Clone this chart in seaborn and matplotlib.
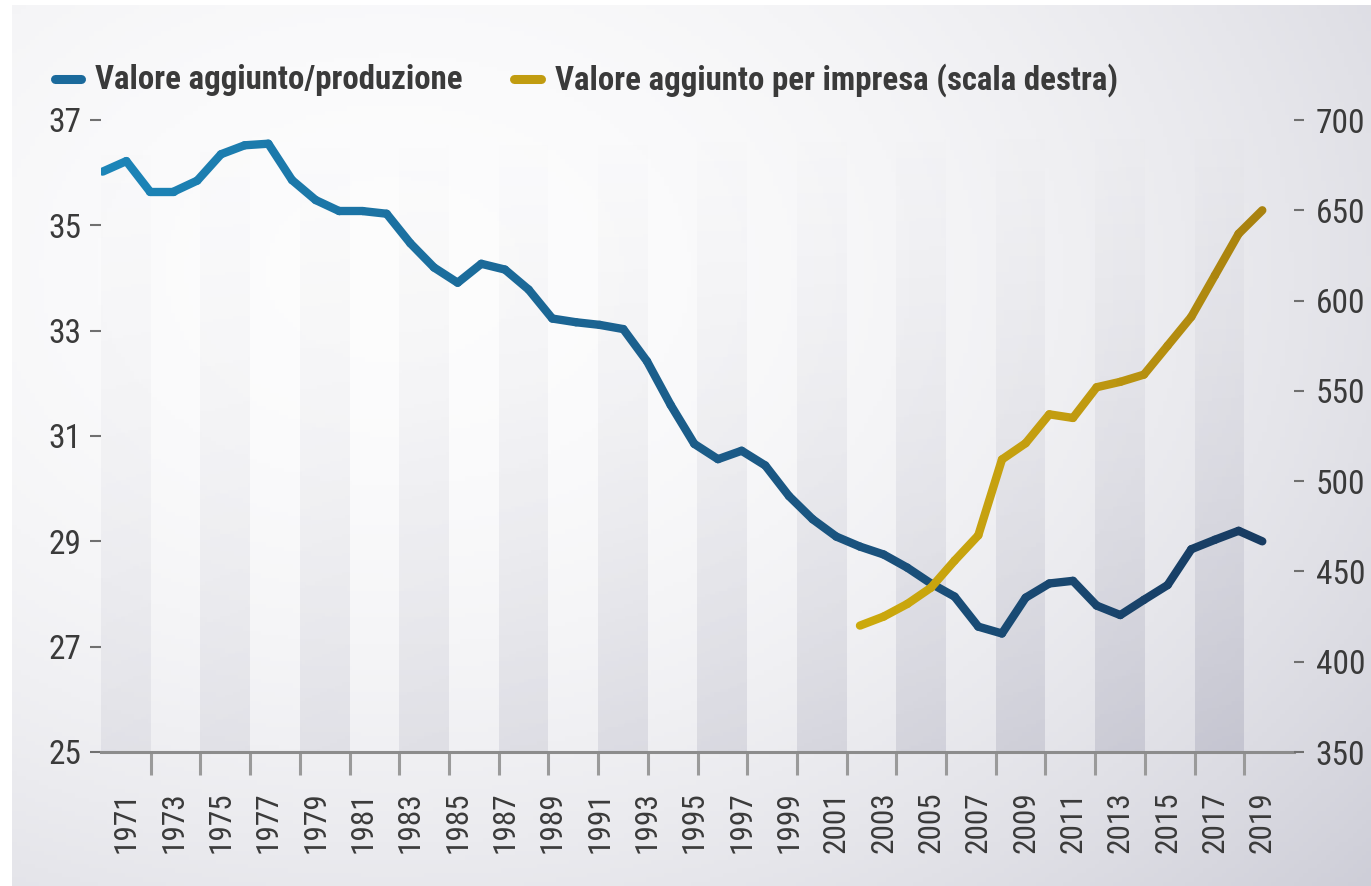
import matplotlib

matplotlib.use("Agg")

import matplotlib.pyplot as plt
import numpy as np
import pandas as pd
import seaborn as sns
from matplotlib import font_manager
from matplotlib.colors import LinearSegmentedColormap
from matplotlib.lines import Line2D

# ── dati ──────────────────────────────────────────────────────────────────────
anni = list(range(1970, 2020))
va_produzione = [
    36.02, 36.22, 35.64, 35.64, 35.85, 36.35, 36.52, 36.55, 35.86, 35.48,
    35.27, 35.27, 35.22, 34.66, 34.20, 33.91, 34.27, 34.16, 33.78, 33.23,
    33.16, 33.11, 33.03, 32.42, 31.59, 30.85, 30.56, 30.72, 30.44, 29.86,
    29.42, 29.09, 28.90, 28.75, 28.50, 28.20, 27.95, 27.38, 27.25, 27.93,
    28.20, 28.25, 27.78, 27.60, 27.89, 28.17, 28.85, 29.03, 29.20, 29.00,
]
anni_impresa = list(range(2002, 2020))
va_impresa = [
    420, 425, 432, 441, 456, 470, 512, 521, 537, 535,
    552, 555, 559, 575, 591, 614, 637, 650,
]
anni_etichette = list(range(1971, 2020, 2))
tick_sx = [25, 27, 29, 31, 33, 35, 37]
tick_dx = [350, 400, 450, 500, 550, 600, 650, 700]
etichetta_1 = "Valore aggiunto/produzione"
etichetta_2 = "Valore aggiunto per impresa (scala destra)"

sns.set_theme(style="white")

# condensed font if available
_names = sorted({f.name for f in font_manager.fontManager.ttflist})
FONT = "Roboto"
for cand in ["Roboto Condensed", "Liberation Sans Narrow", "DejaVu Sans Condensed",
             "Open Sans Condensed"]:
    if cand in _names:
        FONT = cand
        break
plt.rcParams["font.family"] = [FONT, "DejaVu Sans"]

W, H = 1371, 886
fig = plt.figure(figsize=(W / 100, H / 100), dpi=100, facecolor="white")

# background panel gradient
bg = fig.add_axes([12 / W, 0, 1 - 12 / W, 1 - 5 / H], zorder=-10)
u, v = np.meshgrid(np.linspace(0, 1, 300), np.linspace(0, 1, 200))
d = 0.01 + 0.2 * ((u - 0.28) ** 2 + 0.8 * (v - 0.3) ** 2)
img = np.dstack([1 - d, 1 - d, 1 - 0.8 * d])
bg.imshow(np.clip(img, 0, 1), extent=[0, 1, 0, 1], aspect="auto")
bg.axis("off")

ax = fig.add_axes([101 / W, 1 - 752 / H, (1294 - 101) / W, (752 - 120) / H])
ax.patch.set_alpha(0)
x0, x1 = 1969.93, 2020.34
y0, y1 = 25, 37

# shaded columns (24 bins, every other one)
rows, cols = 200, 24 * 20
cc = np.arange(cols)
col_on = ((cc // 20) % 2 == 0).astype(float)
t = (np.arange(rows) / (rows - 1))[:, None] ** 1.1
a = (0.10 + 0.12 * cc / cols)[None, :]
band = np.zeros((rows, cols, 4))
band[..., 0] = 0.45
band[..., 1] = 0.45
band[..., 2] = 0.56
band[..., 3] = t * a * col_on[None, :]
ax.imshow(band, extent=[x0, x1, y0, y1], aspect="auto", zorder=0,
          interpolation="nearest")

ax2 = ax.twinx()


def linea_sfumata(axis, xs, ys, colori, lw):
    cmap = LinearSegmentedColormap.from_list("g", colori)
    n = len(xs) - 1
    seg = [f"s{i:02d}" for i in range(n) for _ in (0, 1)]
    df = pd.DataFrame({
        "x": [xs[i + k] for i in range(n) for k in (0, 1)],
        "y": [ys[i + k] for i in range(n) for k in (0, 1)],
        "seg": seg,
    })
    pal = {f"s{i:02d}": cmap(i / max(n - 1, 1)) for i in range(n)}
    sns.lineplot(df, x="x", y="y", hue="seg", palette=pal, legend=False,
                 estimator=None, sort=False, lw=lw, solid_capstyle="round",
                 ax=axis, zorder=3)


blu = ["#1c85b8", "#1b5d8a", "#183c62"]
oro = ["#cba90c", "#c39d10", "#a9820f"]
linea_sfumata(ax, anni, va_produzione, blu, 6.0)
linea_sfumata(ax2, anni_impresa, va_impresa, oro, 6.0)

ax.set_xlim(x0, x1)
ax.set_ylim(y0, y1)
ax2.set_ylim(350, 700)
ax.set_xlabel("")
ax.set_ylabel("")
ax2.set_ylabel("")

ax.set_xticks(anni_etichette)
ax.set_xticklabels([str(y) for y in anni_etichette])
edges = [x0 + i * (x1 - x0) / 24 for i in range(1, 24)]
ax.set_xticks(edges, minor=True)
ax.tick_params(axis="x", which="major", length=0, pad=28, labelrotation=90,
               labelsize=22.5, labelcolor="#3a3a3a")
ax.tick_params(axis="x", which="minor", length=16.5, width=2.2,
               color="#9a9a9a", direction="out", bottom=True)
ax.set_yticks(tick_sx)
ax.tick_params(axis="y", length=8, width=1.5, color="#707070", pad=6,
               labelsize=24, labelcolor="#3a3a3a", left=True)
ax2.set_yticks(tick_dx)
ax2.tick_params(axis="y", length=7.5, width=1.5, color="#707070", pad=8,
                labelsize=24, labelcolor="#3a3a3a", right=True)

for s in ["top", "left", "right"]:
    ax.spines[s].set_visible(False)
for s in ax2.spines.values():
    s.set_visible(False)
ax.spines["bottom"].set_color("#8c8c8c")
ax.spines["bottom"].set_linewidth(2.2)
ax.grid(False)
ax2.grid(False)

# legenda manuale
yl = 1 - 79 / H
for (xa, xb, col, txt, xt) in [(55, 81, "#1b6a9c", etichetta_1, 95),
                               (514, 541, "#c19c10", etichetta_2, 555)]:
    fig.add_artist(Line2D([xa / W, xb / W], [yl, yl], transform=fig.transFigure,
                          color=col, lw=6.5, solid_capstyle="round"))
    fig.text(xt / W, 1 - 80 / H, txt, fontsize=23.7, fontweight="bold",
             color="#3a3a3a", va="center", ha="left")

fig.savefig("out.png", dpi=100)
